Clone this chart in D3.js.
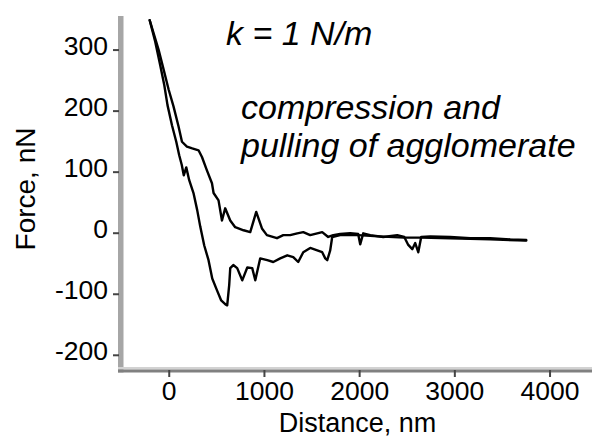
<!DOCTYPE html>
<html>
<head>
<meta charset="utf-8">
<script src="https://cdn.jsdelivr.net/npm/d3@7"></script>
<style>
  html, body { margin: 0; padding: 0; background: #fff; }
  svg { display: block; }
  text { font-family: "Liberation Sans", Arial, sans-serif; fill: #000; }
</style>
</head>
<body>
<div id="chart"></div>
<script>
// ---- data ----
const xTicks = [0, 1000, 2000, 3000, 4000];
const yTicks = [-200, -100, 0, 100, 200, 300];
const xLabel = "Distance, nm";
const yLabel = "Force, nN";
const annotations = ["k = 1 N/m", "compression and", "pulling of agglomerate"];

// approach / compression curve (upper)
const approachDist = [-200,-107,-55,-2,50,103,139,191,247,313,349,401,454,471,523,559,593,646,698,786,856,919,979,1031,1137,1203,1276,1350,1413,1486,1560,1612,1675,1728,1801,1906,1990,2011,2043,2117,2253,2400,2474,2516,2558,2589,2621,2652,2747,2957,3167,3377,3587,3755];
const approachForce = [348,300,268,235,207,174,149,141,138,135,124,102,81,65,53,20,40,20,9,4,1,34,7,-4,-9,-4,-4,-1,1,-4,-1,1,-7,-4,-2,-1,-2,-19,-1,-4,-7,-4,-7,-20,-27,-17,-32,-7,-6,-7,-9,-9,-11,-12];

// retract / pulling curve (lower)
const retractDist = [-200,-142,-89,-47,-13,34,79,110,137,158,184,215,260,299,331,373,418,457,506,551,593,614,635,646,678,719,772,825,877,909,961,1035,1098,1171,1245,1308,1360,1413,1486,1560,1612,1644,1665,1696,1717,1801,1990,2200,2474,2652,2957,3377,3755];
const retractForce = [348,313,274,242,209,176,149,127,111,94,107,86,65,37,10,-21,-45,-75,-94,-111,-117,-119,-86,-58,-53,-58,-78,-57,-58,-78,-42,-45,-48,-42,-37,-40,-48,-32,-25,-29,-32,-42,-45,-29,-7,-4,-4,-6,-8,-8,-9,-11,-13];

// ---- drawing ----
const W = 592, H = 439;
const svg = d3.select("#chart").append("svg").attr("width", W).attr("height", H);

const x = d3.scaleLinear().domain([-533, 4446]).range([118, 592]);
const y = d3.scaleLinear().domain([-229, 355]).range([372.5, 16]);

const fmt = d => String(d); // plain hyphen minus

// left spine
const [yBot, yTop] = y.range();
svg.append("rect").attr("x", 118).attr("y", yTop).attr("width", 5.5).attr("height", yBot - yTop)
  .attr("fill", "#a6a6a6");
// bottom spine (two-tone)
svg.append("rect").attr("x", 118).attr("y", yBot - 5.5).attr("width", x.range()[1] - 118).attr("height", 2.5)
  .attr("fill", "#d2d2d2");
svg.append("rect").attr("x", 118).attr("y", yBot - 3).attr("width", x.range()[1] - 118).attr("height", 3)
  .attr("fill", "#808080");

// y axis
const gy = svg.append("g").attr("transform", "translate(119,0)")
  .call(d3.axisLeft(y).tickValues(yTicks).tickFormat(fmt).tickSize(6).tickPadding(5));
gy.select(".domain").remove();
gy.selectAll(".tick line").attr("stroke", "#444").attr("stroke-width", 2);
gy.selectAll(".tick text").attr("font-size", 26.5).attr("dy", "0.19em")
  .style("font-family", '"Liberation Sans", Arial, sans-serif').attr("fill", "#000");

// x axis
const gx = svg.append("g").attr("transform", `translate(0,${yBot - 2.5})`)
  .call(d3.axisBottom(x).tickValues(xTicks).tickFormat(fmt).tickSize(7).tickPadding(4.5));
gx.select(".domain").remove();
gx.selectAll(".tick line").attr("stroke", "#444").attr("stroke-width", 2);
gx.selectAll(".tick text").attr("font-size", 26.5)
  .style("font-family", '"Liberation Sans", Arial, sans-serif').attr("fill", "#000");

// axis titles
svg.append("text").attr("x", 357.5).attr("y", 432).attr("text-anchor", "middle")
  .attr("font-size", 27).text(xLabel);
svg.append("text").attr("transform", "translate(35,189) rotate(-90)").attr("text-anchor", "middle")
  .attr("font-size", 28).text(yLabel);

// curves
const line = d3.line().x(d => x(d[0])).y(d => y(d[1]));
const approach = approachDist.map((d, i) => [d, approachForce[i]]);
const retract = retractDist.map((d, i) => [d, retractForce[i]]);
[retract, approach].forEach(data => {
  svg.append("path").datum(data).attr("d", line)
    .attr("fill", "none").attr("stroke", "#000").attr("stroke-width", 2.4)
    .attr("stroke-linejoin", "round").attr("stroke-linecap", "round");
});

// annotations
const ann = svg.append("g").attr("font-style", "italic").attr("font-size", 34);
ann.append("text").attr("x", 226).attr("y", 45).text(annotations[0]);
ann.append("text").attr("x", 241).attr("y", 119).text(annotations[1]);
ann.append("text").attr("x", 241).attr("y", 157).text(annotations[2]);
</script>
</body>
</html>
